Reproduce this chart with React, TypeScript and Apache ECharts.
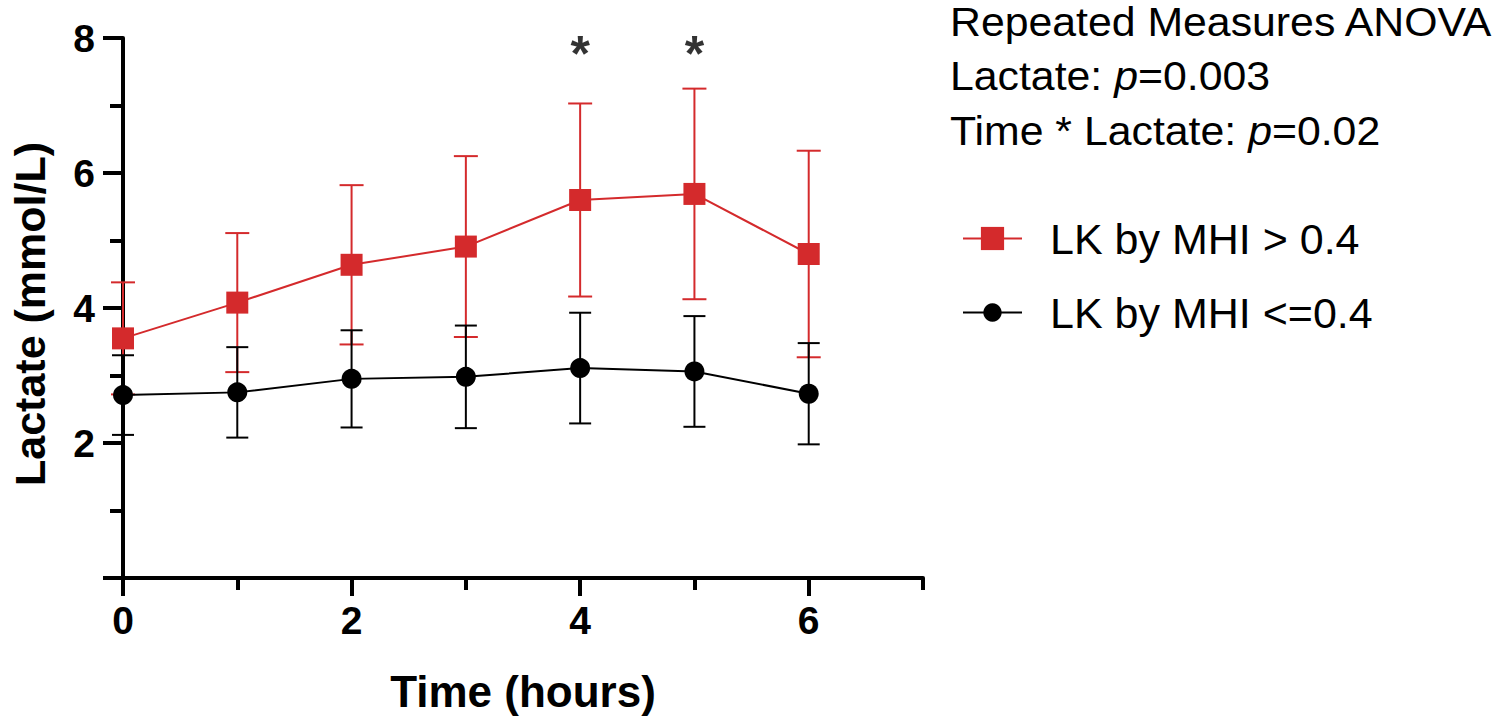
import React, { useEffect, useRef } from 'react';
import * as echarts from 'echarts';

const FONT = '"Liberation Sans", Arial, Helvetica, sans-serif';
const RED = '#d42a2c';
const BLACK = '#000000';

const hours = [0, 1, 2, 3, 4, 5, 6];
const highName = 'LK by MHI > 0.4';
const lowName = 'LK by MHI <=0.4';
const highMean = [3.55, 4.08, 4.64, 4.91, 5.6, 5.69, 4.8];
const highSD = [0.83, 1.03, 1.18, 1.34, 1.43, 1.56, 1.53];
const lowMean = [2.71, 2.75, 2.95, 2.98, 3.11, 3.06, 2.73];
const lowSD = [0.59, 0.67, 0.72, 0.76, 0.82, 0.82, 0.75];
const sigHours = [4, 5];
const sigLevel = 7.77;
const xMajorTicks = [0, 2, 4, 6];
const xMinorTicks = [1, 3, 5, 7];
const yLabelTicks = [2, 4, 6, 8];
const statLines = [
  '{n|Repeated Measures ANOVA}',
  '{n|Lactate: }{i|p}{n|=0.003}',
  '{n|Time * Lactate: }{i|p}{n|=0.02}',
];

function errorBars(name: string, mean: number[], sd: number[], color: string, capW: number) {
  return {
    type: 'custom',
    name,
    silent: true,
    z: 1,
    data: hours.map((h, i) => [h, mean[i] - sd[i], mean[i] + sd[i]]),
    encode: { x: 0, y: [1, 2] },
    renderItem: (_params: any, api: any) => {
      const x = api.value(0);
      const lo = api.coord([x, api.value(1)]);
      const hi = api.coord([x, api.value(2)]);
      const hw = capW / 2;
      const style = { stroke: color, lineWidth: 2, fill: 'none' };
      return {
        type: 'group',
        children: [
          { type: 'line', shape: { x1: lo[0], y1: lo[1], x2: hi[0], y2: hi[1] }, style },
          { type: 'line', shape: { x1: hi[0] - hw, y1: hi[1], x2: hi[0] + hw, y2: hi[1] }, style },
          { type: 'line', shape: { x1: lo[0] - hw, y1: lo[1], x2: lo[0] + hw, y2: lo[1] }, style },
        ],
      };
    },
  };
}

export default function App() {
  const ref = useRef<HTMLDivElement>(null);
  useEffect(() => {
    document.body.style.margin = '0';
    if (!ref.current) return;
    const chart = echarts.init(ref.current, null, { renderer: 'svg' });
    const legendText = { fontSize: 43, fontFamily: FONT, color: BLACK, padding: [0, 0, 0, 23] };
    const richBase = { fontSize: 40, fontFamily: FONT, fill: BLACK, color: BLACK };
    chart.setOption({
      animation: false,
      backgroundColor: '#ffffff',
      grid: { left: 120, right: 579, top: 38, bottom: 148 },
      legend: [
        {
          data: [highName],
          left: 957,
          top: 212,
          itemWidth: 59,
          itemHeight: 29,
          textStyle: legendText,
        },
        {
          data: [lowName],
          left: 957,
          top: 286,
          itemWidth: 59,
          itemHeight: 23,
          textStyle: legendText,
        },
      ],
      xAxis: [
        {
          type: 'value',
          min: 0,
          max: 7,
          interval: 1,
          name: 'Time (hours)',
          nameLocation: 'middle',
          nameGap: 91,
          nameTextStyle: { fontSize: 44, fontWeight: 'bold', fontFamily: FONT, color: BLACK },
          axisLine: { lineStyle: { color: BLACK, width: 4 } },
          axisTick: { length: 12, lineStyle: { color: BLACK, width: 4 }, customValues: xMinorTicks },
          axisLabel: {
            customValues: xMajorTicks,
            fontSize: 39,
            fontWeight: 'bold',
            fontFamily: FONT,
            color: BLACK,
            margin: 23,
          },
          splitLine: { show: false },
        },
        {
          type: 'value',
          min: 0,
          max: 7,
          interval: 1,
          position: 'bottom',
          axisLine: { show: false },
          axisTick: { length: 18, lineStyle: { color: BLACK, width: 4 }, customValues: xMajorTicks },
          axisLabel: { show: false },
          splitLine: { show: false },
        },
      ],
      yAxis: {
        type: 'value',
        min: 0,
        max: 8,
        interval: 2,
        name: 'Lactate (mmol/L)',
        nameLocation: 'middle',
        nameGap: 72,
        nameTextStyle: {
          fontSize: 43,
          fontWeight: 'bold',
          fontFamily: FONT,
          color: BLACK,
          padding: [0, 12, 0, 0],
        },
        axisLine: { lineStyle: { color: BLACK, width: 4 } },
        axisTick: { length: 20, lineStyle: { color: BLACK, width: 4 } },
        minorTick: { show: true, splitNumber: 2, length: 13, lineStyle: { color: BLACK, width: 4 } },
        axisLabel: {
          customValues: yLabelTicks,
          fontSize: 39,
          fontWeight: 'bold',
          fontFamily: FONT,
          color: BLACK,
          margin: 28,
        },
        splitLine: { show: false },
        minorSplitLine: { show: false },
      },
      series: [
        errorBars('high SD', highMean, highSD, RED, 24),
        errorBars('low SD', lowMean, lowSD, BLACK, 22),
        {
          type: 'line',
          name: highName,
          data: hours.map((h, i) => [h, highMean[i]]),
          symbol: 'rect',
          symbolSize: 22,
          color: RED,
          itemStyle: { color: RED },
          lineStyle: { color: RED, width: 2 },
          z: 3,
        },
        {
          type: 'line',
          name: lowName,
          data: hours.map((h, i) => [h, lowMean[i]]),
          symbol: 'circle',
          symbolSize: 20,
          color: BLACK,
          itemStyle: { color: BLACK },
          lineStyle: { color: BLACK, width: 2 },
          z: 4,
        },
        {
          type: 'scatter',
          name: 'significance',
          symbolSize: 1,
          itemStyle: { color: 'rgba(0,0,0,0)' },
          data: sigHours.map((h) => [h, sigLevel]),
          label: {
            show: true,
            position: 'inside',
            formatter: '*',
            fontSize: 50,
            fontWeight: 'bold',
            fontFamily: FONT,
            color: BLACK,
            textBorderWidth: 0,
          },
          silent: true,
        },
      ],
      graphic: statLines.map((t, i) => ({
        type: 'text',
        x: 950,
        y: [22, 76, 131][i],
        scaleX: 1.07,
        style: {
          text: t,
          fontSize: 40,
          fontFamily: FONT,
          fill: BLACK,
          verticalAlign: 'middle',
          rich: {
            n: { ...richBase },
            i: { ...richBase, fontStyle: 'italic' },
          },
        },
      })),
    });
    return () => chart.dispose();
  }, []);
  return <div ref={ref} style={{ width: 1502, height: 726 }} />;
}
